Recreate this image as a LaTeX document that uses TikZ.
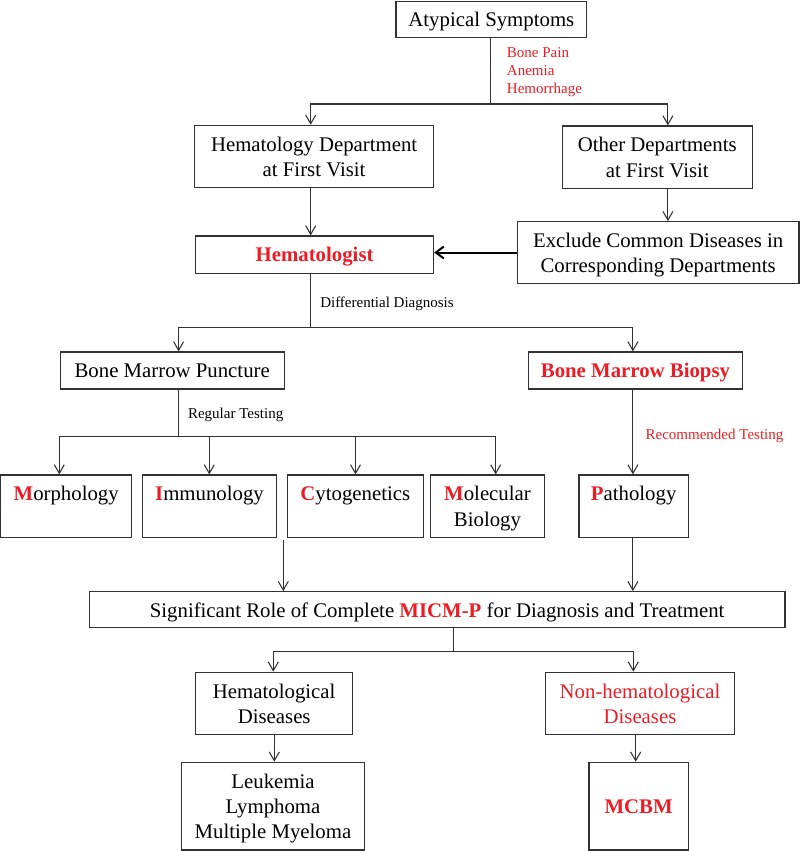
\documentclass[tikz,border=0pt]{standalone}
\usepackage{fontspec}
\setmainfont{Liberation Serif}
\usetikzlibrary{arrows.meta}
\definecolor{myred}{RGB}{237,28,36}
\definecolor{lncol}{RGB}{50,50,50}
\newcommand\mainfs{\fontsize{15.6}{18.9}\selectfont}
\newcommand\smallfs{\fontsize{11.25}{13.5}\selectfont}
\newcommand\rb[1]{\textcolor{myred}{\textbf{#1}}}
% last line of a box: its depth is not counted when the text is centred
\newcommand\nod[1]{\raisebox{0pt}[\height][0pt]{#1}}
\tikzset{
  box/.style={draw=lncol, line width=0.9pt, inner sep=0pt, align=center, font=\mainfs},
  wh/.style 2 args={minimum width=#1*0.75pt, minimum height=#2*0.75pt},
  ln/.style={draw=lncol, line width=0.8pt},
  arr/.style={ln, -{Straight Barb[length=6.5pt,width=7.5pt]}},
  thickarr/.style={draw=black, line width=1.5pt, -{Straight Barb[length=6pt,width=9pt]}},
  lbl/.style={font=\smallfs, inner sep=0pt, anchor=west, align=left},
}
\begin{document}
\begin{tikzpicture}[x=0.75pt, y=-0.75pt]
\useasboundingbox (0,0) rectangle (800,851);
% boxes
\node[box, wh={190.7}{35.7}] (atyp) at (491.35,19.35) {\nod{Atypical Symptoms}};
\node[box, wh={239}{62.5}] (hd) at (314.1,156.6) {Hematology Department\\\nod{at First Visit}};
\node[box, wh={190}{62.5}] (od) at (657.3,157.25) {Other Departments\\\nod{at First Visit}};
\node[box, wh={238}{37.3}] (hg) at (314.6,254.65) {\nod{\rb{Hematologist}}};
\node[box, wh={281.7}{61.6}] (ex) at (658.15,252.5) {Exclude Common Diseases in\\\nod{Corresponding Departments}};
\node[box, wh={224}{37}] (bmp) at (172.2,370.5) {\nod{Bone Marrow Puncture}};
\node[box, wh={213.7}{37}] (bmb) at (635.45,370.5) {\nod{\rb{Bone Marrow Biopsy}}};
\node[box, wh={131}{62.7}] (mor) at (66.2,506.35) {\rb{M}orphology\\\mbox{}};
\node[box, wh={134.4}{62.7}] (imm) at (209.5,506.35) {\rb{I}mmunology\\\mbox{}};
\node[box, wh={136}{62.7}] (cyt) at (355.3,506.35) {\rb{C}ytogenetics\\\mbox{}};
\node[box, wh={113.6}{62.7}] (mol) at (487.5,506.35) {\rb{M}olecular\\\nod{Biology}};
\node[box, wh={109.3}{62.7}] (pat) at (633.65,506.35) {\rb{P}athology\\\mbox{}};
\node[box, wh={695.7}{36}] (sig) at (437.15,609.7) {\nod{Significant Role of Complete \rb{MICM-P} for Diagnosis and Treatment}};
\node[box, wh={157}{62.4}] (hdis) at (274.2,703.5) {Hematological\\\nod{Diseases}};
\node[box, wh={188.6}{62.4}, text=myred] (nhd) at (640,703.5) {Non-hematological\\\nod{Diseases}};
\node[box, wh={182.6}{87.7}] (leu) at (273,806.15) {Leukemia\\Lymphoma\\\nod{Multiple Myeloma}};
\node[box, wh={99.3}{87.7}] (mcbm) at (638.65,806.15) {\nod{\rb{MCBM}}};
% labels
\node[lbl, text=myred] (sym) at (506.7,72.5) {Bone Pain\\Anemia\\Hemorrhage};
\node[lbl] (dd) at (320,304.3) {Differential Diagnosis};
\node[lbl] (rt) at (187.8,415.3) {Regular Testing};
\node[lbl, text=myred] (rec) at (645.4,435.7) {Recommended Testing};
% x positions of connectors
\coordinate (xhd) at (310.7,0);
\coordinate (xod) at (667.9,0);
\coordinate (xbmp) at (178.6,0);
\coordinate (xbmb) at (632.9,0);
\coordinate (xmor) at (59.3,0);
\coordinate (ximm) at (209.3,0);
\coordinate (xcyt) at (355.5,0);
\coordinate (xmol) at (495.7,0);
\coordinate (xhdis) at (273.3,0);
\coordinate (xnhd) at (633.3,0);
\coordinate (xleu) at (274.3,0);
\coordinate (xmc) at (635.7,0);
% junctions
\coordinate (j1) at (490.7,104);
\coordinate (j2) at (310.7,327.7);
\coordinate (j3) at (178.6,436.7);
\coordinate (j4) at (453.3,651.7);
\coordinate (c1) at (283.3,540);
% connectors
\draw[ln] (atyp.south -| j1) -- (j1);
\draw[arr] (j1) -| (hd.north -| xhd);
\draw[arr] (j1) -| (od.north -| xod);
\draw[arr] (hd.south -| xhd) -- (hg.north -| xhd);
\draw[arr] (od.south -| xod) -- (ex.north -| xod);
\draw[thickarr] (ex.west) -- (ex.west -| hg.east);
\draw[ln] (hg.south -| j2) -- (j2);
\draw[arr] (j2) -| (bmp.north -| xbmp);
\draw[arr] (j2) -| (bmb.north -| xbmb);
\draw[ln] (bmp.south -| j3) -- (j3);
\draw[arr] (j3) -| (mor.north -| xmor);
\draw[arr] (j3) -| (imm.north -| ximm);
\draw[arr] (j3) -| (cyt.north -| xcyt);
\draw[arr] (j3) -| (mol.north -| xmol);
\draw[arr] (bmb.south -| xbmb) -- (pat.north -| xbmb);
\draw[arr] (c1) -- (sig.north -| c1);
\draw[arr] (pat.south -| xbmb) -- (sig.north -| xbmb);
\draw[ln] (sig.south -| j4) -- (j4);
\draw[arr] (j4) -| (hdis.north -| xhdis);
\draw[arr] (j4) -| (nhd.north -| xnhd);
\draw[arr] (hdis.south -| xleu) -- (leu.north -| xleu);
\draw[arr] (nhd.south -| xmc) -- (mcbm.north -| xmc);
\end{tikzpicture}
\end{document}
